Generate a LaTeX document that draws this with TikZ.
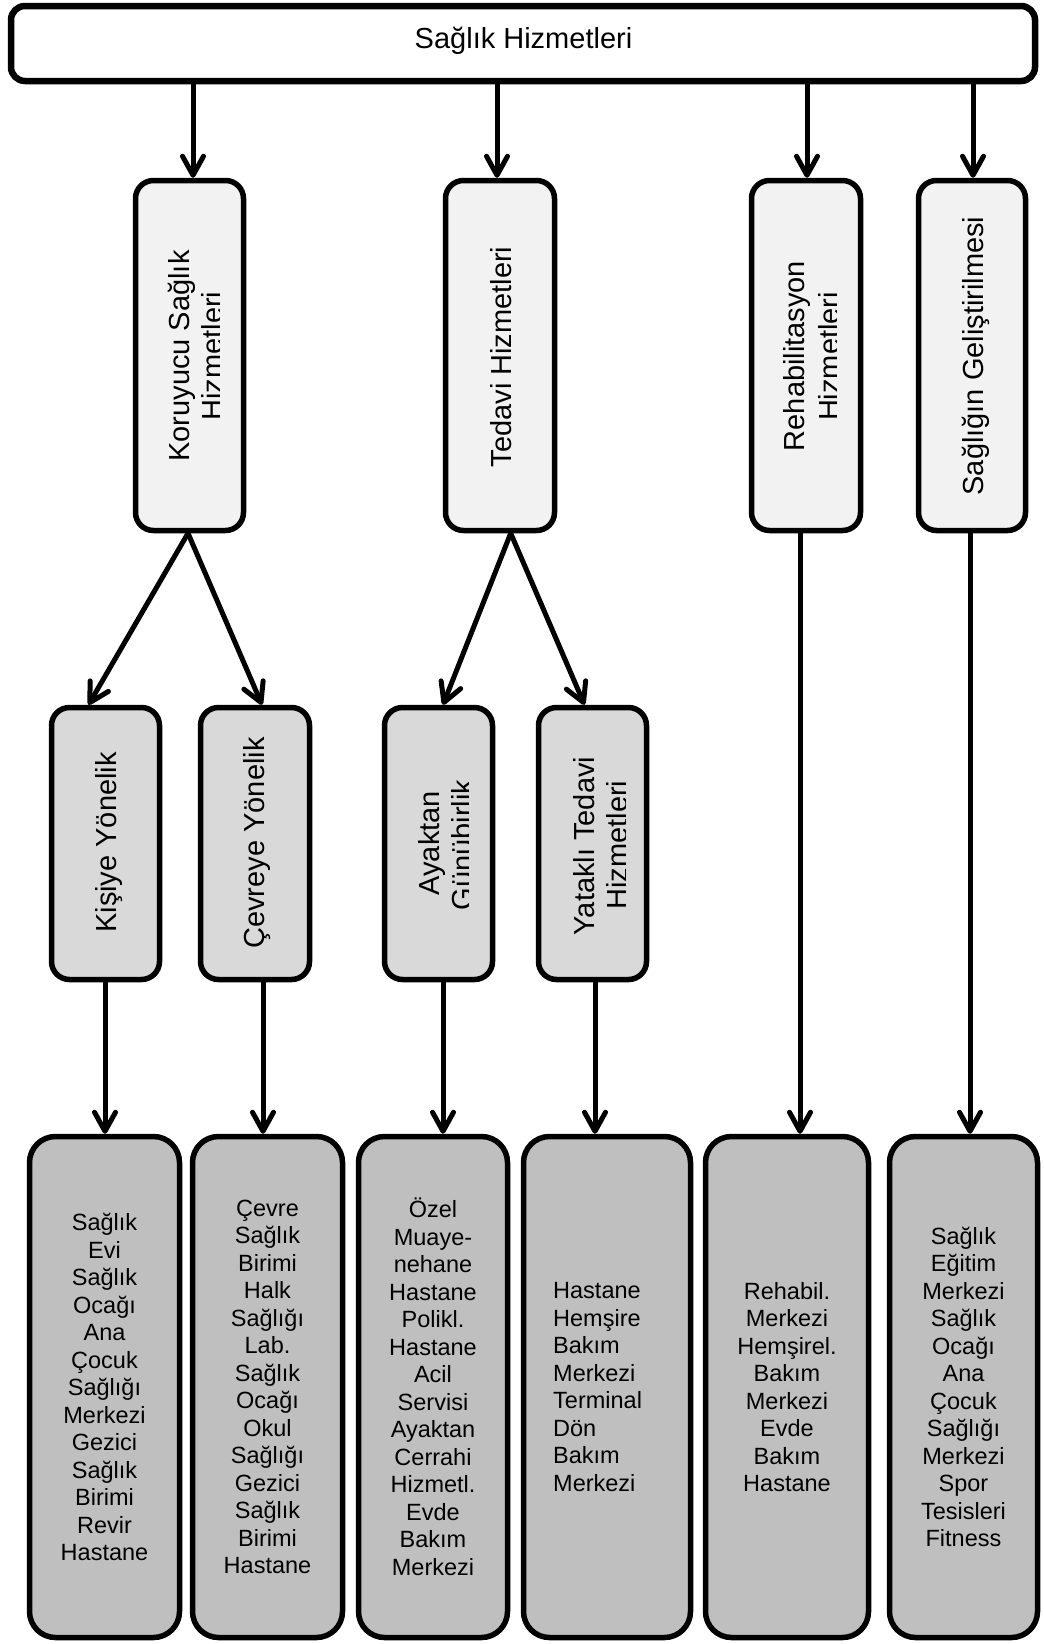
\documentclass[tikz,border=0pt]{standalone}
\usepackage{fontspec}
\setmainfont{Liberation Sans}
\usetikzlibrary{arrows.meta}
\definecolor{lvA}{HTML}{F2F2F2}
\definecolor{lvB}{HTML}{D9D9D9}
\definecolor{lvC}{HTML}{BFBFBF}
\newcommand\myMid{\fontsize{29}{33.5}\selectfont}
\newcommand\myBot{\fontsize{23.5}{27.5}\selectfont}
\begin{document}
\begin{tikzpicture}[x=1pt,y=-1pt,
  bx/.style={draw=black, line width=5.5pt, rounded corners=18pt, inner sep=0pt},
  bot/.style={bx, fill=lvC, rounded corners=26pt, minimum height=501pt, align=center, font=\myBot},
  rl/.style={rotate=90, anchor=base, font=\myMid, inner sep=0pt},
  arr/.style={line width=5pt, -{Straight Barb[length=19pt,width=21pt,round]}}]
\useasboundingbox (0,0) rectangle (1044,1644);

% top
\node[bx, fill=white, line width=6.5pt, rounded corners=14pt, minimum width=1024pt, minimum height=75pt] (top) at (523,43.5) {};
\node[font=\myMid, anchor=base, inner sep=0pt] (toplab) at (523.5,48) {Sağlık Hizmetleri};

% second level
\node[bx, fill=lvA, minimum width=108pt, minimum height=350pt] (kor) at (189.5,355.5) {};
\node[bx, fill=lvA, minimum width=109pt, minimum height=350pt] (ted) at (500,355.5) {};
\node[bx, fill=lvA, minimum width=109pt, minimum height=350pt] (reh) at (806,355.5) {};
\node[bx, fill=lvA, minimum width=107pt, minimum height=350pt] (gel) at (972,355.5) {};

\node[rl] (korA) at (189,356) {Koruyucu Sağlık};
\begin{scope}
  \clip (140,185) rectangle (219.5,525);
  \node[rl] (korB) at (222.5,356) {Hizmetleri};
\end{scope}
\node[rl] (tedA) at (511,357) {Tedavi Hizmetleri};
\node[rl] (rehA) at (804,356) {Rehabilitasyon};
\begin{scope}
  \clip (756,185) rectangle (836.7,525);
  \node[rl] (rehB) at (839,356.5) {Hizmetleri};
\end{scope}
\node[rl] (gelA) at (983,356) {Sağlığın Geliştirilmesi};

% third level
\node[bx, fill=lvB, minimum width=108pt, minimum height=272pt] (kis) at (105.5,843.5) {};
\node[bx, fill=lvB, minimum width=109pt, minimum height=272pt] (cev) at (255,843.5) {};
\node[bx, fill=lvB, minimum width=108pt, minimum height=272pt] (aya) at (438.5,843.5) {};
\node[bx, fill=lvB, minimum width=108pt, minimum height=272pt] (yat) at (592.5,843.5) {};

\node[rl] (kisA) at (116,842.5) {Kişiye Yönelik};
\node[rl] (cevA) at (264.4,843) {Çevreye Yönelik};
\node[rl] (ayaA) at (439,843.3) {Ayaktan};
\begin{scope}
  \clip (390,712) rectangle (468.3,975);
  \node[rl] (ayaB) at (472.5,845) {Günübirlik};
\end{scope}
\node[rl] (yatA) at (594,846) {Yataklı Tedavi};
\begin{scope}
  \clip (543,712) rectangle (625,975);
  \node[rl] (yatB) at (627.5,845) {Hizmetleri};
\end{scope}

% bottom level
\node[bot, minimum width=150pt] (b1) at (104.5,1387) {Sağlık\\Evi\\Sağlık\\Ocağı\\Ana\\Çocuk\\Sağlığı\\Merkezi\\Gezici\\Sağlık\\Birimi\\Revir\\Hastane};
\node[bot, minimum width=150pt] (b2) at (267.5,1387) {Çevre\\Sağlık\\Birimi\\Halk\\Sağlığı\\Lab.\\Sağlık\\Ocağı\\Okul\\Sağlığı\\Gezici\\Sağlık\\Birimi\\Hastane};
\node[bot, minimum width=149pt] (b3) at (433,1387) {Özel\\Muaye-\\nehane\\Hastane\\Polikl.\\Hastane\\Acil\\Servisi\\Ayaktan\\Cerrahi\\Hizmetl.\\Evde\\Bakım\\Merkezi};
\node[bot, minimum width=167pt] (b4) at (607,1387) {};
\node[anchor=west, align=left, font=\myBot, inner sep=0pt] (b4t) at (553,1387) {Hastane\\Hemşire\\Bakım\\Merkezi\\Terminal\\Dön\\Bakım\\Merkezi};
\node[bot, minimum width=163pt] (b5) at (787,1387) {Rehabil.\\Merkezi\\Hemşirel.\\Bakım\\Merkezi\\Evde\\Bakım\\Hastane};
\node[bot, minimum width=148pt] (b6) at (963.5,1387) {Sağlık\\Eğitim\\Merkezi\\Sağlık\\Ocağı\\Ana\\Çocuk\\Sağlığı\\Merkezi\\Spor\\Tesisleri\\Fitness};

% arrow x positions
\coordinate (xa) at (193,0);
\coordinate (xb) at (497,0);
\coordinate (xc) at (807,0);
\coordinate (xd) at (973,0);
\coordinate (xe) at (105,0);
\coordinate (xf) at (263,0);
\coordinate (xg) at (443,0);
\coordinate (xh) at (595,0);
\coordinate (xi) at (800,0);
\coordinate (xj) at (970,0);

\draw[arr] (top.south -| xa) -- (kor.north -| xa);
\draw[arr] (top.south -| xb) -- (ted.north -| xb);
\draw[arr] (top.south -| xc) -- (reh.north -| xc);
\draw[arr] (top.south -| xd) -- (gel.north -| xd);

\draw[arr] ([xshift=-1.5pt]kor.south) -- ([xshift=-17pt]kis.north);
\draw[arr] ([xshift=-1.5pt]kor.south) -- ([xshift=7pt]cev.north);
\draw[arr] ([xshift=10.7pt]ted.south) -- ([xshift=4.5pt]aya.north);
\draw[arr] ([xshift=10.7pt]ted.south) -- ([xshift=-8pt]yat.north);

\draw[arr] (kis.south -| xe) -- (b1.north -| xe);
\draw[arr] (cev.south -| xf) -- (b2.north -| xf);
\draw[arr] (aya.south -| xg) -- (b3.north -| xg);
\draw[arr] (yat.south -| xh) -- (b4.north -| xh);
\draw[arr] (reh.south -| xi) -- (b5.north -| xi);
\draw[arr] (gel.south -| xj) -- (b6.north -| xj);
\end{tikzpicture}
\end{document}
